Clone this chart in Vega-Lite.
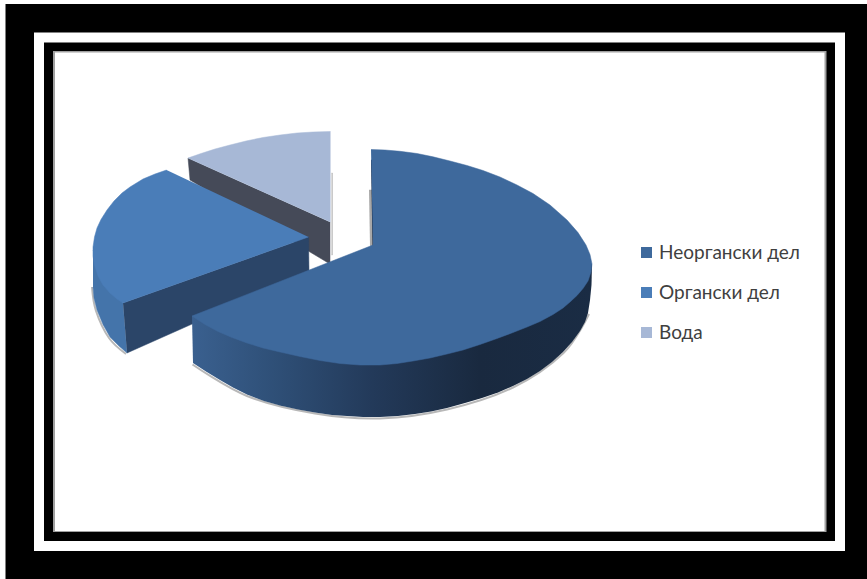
{
  "$schema": "https://vega.github.io/schema/vega-lite/v6.json",
  "width": 867,
  "height": 579,
  "autosize": {"type": "fit", "contains": "padding"},
  "padding": 0,
  "background": "#ffffff",
  "view": {"stroke": null},
  "datasets": {
    "frame": [
      {"band": "outer", "x": 5.5, "x2": 867, "y": 4, "y2": 579},
      {"band": "gap", "x": 34, "x2": 845, "y": 32.5, "y2": 551},
      {"band": "rule", "x": 44, "x2": 835, "y": 42.5, "y2": 541},
      {"band": "edge", "x": 53, "x2": 826.5, "y": 51, "y2": 532},
      {"band": "plot", "x": 55, "x2": 824.5, "y": 52.5, "y2": 531}
    ],
    "outlines": [
      {"part": "water-wall", "i": 1, "x": 188, "y": 158},
      {"part": "water-wall", "i": 2, "x": 190, "y": 180},
      {"part": "water-wall", "i": 3, "x": 330, "y": 264},
      {"part": "water-wall", "i": 4, "x": 330, "y": 222},

      {"part": "water-edge", "i": 1, "x": 331.5, "y": 173},
      {"part": "water-edge", "i": 2, "x": 332.5, "y": 173},
      {"part": "water-edge", "i": 3, "x": 332.5, "y": 255},
      {"part": "water-edge", "i": 4, "x": 331.5, "y": 255},

      {"series": "Вода", "part": "water-top", "i": 1, "x": 330.5, "y": 131.5},
      {"series": "Вода", "part": "water-top", "i": 2, "x": 313, "y": 132},
      {"series": "Вода", "part": "water-top", "i": 3, "x": 297, "y": 133},
      {"series": "Вода", "part": "water-top", "i": 4, "x": 280, "y": 135},
      {"series": "Вода", "part": "water-top", "i": 5, "x": 263, "y": 137.5},
      {"series": "Вода", "part": "water-top", "i": 6, "x": 246, "y": 141},
      {"series": "Вода", "part": "water-top", "i": 7, "x": 230, "y": 145},
      {"series": "Вода", "part": "water-top", "i": 8, "x": 215, "y": 149},
      {"series": "Вода", "part": "water-top", "i": 9, "x": 201, "y": 153.5},
      {"series": "Вода", "part": "water-top", "i": 10, "x": 188, "y": 158},
      {"series": "Вода", "part": "water-top", "i": 11, "x": 330.5, "y": 222},

      {"part": "organic-rim-shadow", "i": 1, "x": 92, "y": 287},
      {"part": "organic-rim-shadow", "i": 2, "x": 96, "y": 311},
      {"part": "organic-rim-shadow", "i": 3, "x": 109, "y": 338},
      {"part": "organic-rim-shadow", "i": 4, "x": 126, "y": 354},

      {"part": "organic-rim", "i": 1, "x": 93, "y": 250},
      {"part": "organic-rim", "i": 2, "x": 123, "y": 303},
      {"part": "organic-rim", "i": 3, "x": 127, "y": 353},
      {"part": "organic-rim", "i": 4, "x": 119, "y": 346},
      {"part": "organic-rim", "i": 5, "x": 110, "y": 337},
      {"part": "organic-rim", "i": 6, "x": 103, "y": 324.5},
      {"part": "organic-rim", "i": 7, "x": 97, "y": 310},
      {"part": "organic-rim", "i": 8, "x": 94, "y": 298},
      {"part": "organic-rim", "i": 9, "x": 93, "y": 287},

      {"part": "organic-wall", "i": 1, "x": 123, "y": 303},
      {"part": "organic-wall", "i": 2, "x": 308.5, "y": 237},
      {"part": "organic-wall", "i": 3, "x": 309, "y": 272},
      {"part": "organic-wall", "i": 4, "x": 127, "y": 353},

      {"series": "Органски дел", "part": "organic-top", "i": 1, "x": 166.5, "y": 170},
      {"series": "Органски дел", "part": "organic-top", "i": 2, "x": 155, "y": 174},
      {"series": "Органски дел", "part": "organic-top", "i": 3, "x": 143, "y": 179},
      {"series": "Органски дел", "part": "organic-top", "i": 4, "x": 130, "y": 187},
      {"series": "Органски дел", "part": "organic-top", "i": 5, "x": 122, "y": 193},
      {"series": "Органски дел", "part": "organic-top", "i": 6, "x": 114, "y": 201},
      {"series": "Органски дел", "part": "organic-top", "i": 7, "x": 107, "y": 210},
      {"series": "Органски дел", "part": "organic-top", "i": 8, "x": 101, "y": 219.5},
      {"series": "Органски дел", "part": "organic-top", "i": 9, "x": 97, "y": 228},
      {"series": "Органски дел", "part": "organic-top", "i": 10, "x": 94.5, "y": 237},
      {"series": "Органски дел", "part": "organic-top", "i": 11, "x": 93, "y": 247},
      {"series": "Органски дел", "part": "organic-top", "i": 12, "x": 93, "y": 256},
      {"series": "Органски дел", "part": "organic-top", "i": 13, "x": 94.5, "y": 265},
      {"series": "Органски дел", "part": "organic-top", "i": 14, "x": 98, "y": 276},
      {"series": "Органски дел", "part": "organic-top", "i": 15, "x": 103, "y": 285},
      {"series": "Органски дел", "part": "organic-top", "i": 16, "x": 110, "y": 293},
      {"series": "Органски дел", "part": "organic-top", "i": 17, "x": 117, "y": 299},
      {"series": "Органски дел", "part": "organic-top", "i": 18, "x": 123, "y": 303},
      {"series": "Органски дел", "part": "organic-top", "i": 19, "x": 308.5, "y": 237},

      {"part": "mineral-edge", "i": 1, "x": 369, "y": 190},
      {"part": "mineral-edge", "i": 2, "x": 373, "y": 190},
      {"part": "mineral-edge", "i": 3, "x": 374, "y": 246},
      {"part": "mineral-edge", "i": 4, "x": 370, "y": 246},

      {"part": "mineral-inner", "i": 1, "x": 371, "y": 160},
      {"part": "mineral-inner", "i": 2, "x": 374, "y": 160},
      {"part": "mineral-inner", "i": 3, "x": 373.5, "y": 246},
      {"part": "mineral-inner", "i": 4, "x": 372.5, "y": 246},

      {"part": "mineral-shadow", "i": 1, "x": 192.5, "y": 364.5},
      {"part": "mineral-shadow", "i": 2, "x": 247, "y": 396},
      {"part": "mineral-shadow", "i": 3, "x": 315, "y": 413.5},
      {"part": "mineral-shadow", "i": 4, "x": 380, "y": 418.5},
      {"part": "mineral-shadow", "i": 5, "x": 447, "y": 409.5},
      {"part": "mineral-shadow", "i": 6, "x": 513, "y": 387.5},
      {"part": "mineral-shadow", "i": 7, "x": 563.5, "y": 353},
      {"part": "mineral-shadow", "i": 8, "x": 589, "y": 314},

      {"part": "mineral-wall", "i": 1, "x": 193, "y": 363},
      {"part": "mineral-wall", "i": 2, "x": 206, "y": 371.5},
      {"part": "mineral-wall", "i": 3, "x": 220, "y": 380},
      {"part": "mineral-wall", "i": 4, "x": 233, "y": 387.5},
      {"part": "mineral-wall", "i": 5, "x": 247, "y": 394.5},
      {"part": "mineral-wall", "i": 6, "x": 264, "y": 401},
      {"part": "mineral-wall", "i": 7, "x": 280, "y": 405.5},
      {"part": "mineral-wall", "i": 8, "x": 298, "y": 409.5},
      {"part": "mineral-wall", "i": 9, "x": 315, "y": 412.5},
      {"part": "mineral-wall", "i": 10, "x": 332, "y": 415},
      {"part": "mineral-wall", "i": 11, "x": 347, "y": 416},
      {"part": "mineral-wall", "i": 12, "x": 363, "y": 417},
      {"part": "mineral-wall", "i": 13, "x": 380, "y": 417},
      {"part": "mineral-wall", "i": 14, "x": 398, "y": 416},
      {"part": "mineral-wall", "i": 15, "x": 415, "y": 414},
      {"part": "mineral-wall", "i": 16, "x": 431, "y": 411.5},
      {"part": "mineral-wall", "i": 17, "x": 447, "y": 408},
      {"part": "mineral-wall", "i": 18, "x": 465, "y": 403},
      {"part": "mineral-wall", "i": 19, "x": 482, "y": 398},
      {"part": "mineral-wall", "i": 20, "x": 498, "y": 392.5},
      {"part": "mineral-wall", "i": 21, "x": 513, "y": 386},
      {"part": "mineral-wall", "i": 22, "x": 527, "y": 379},
      {"part": "mineral-wall", "i": 23, "x": 540, "y": 371},
      {"part": "mineral-wall", "i": 24, "x": 552, "y": 362},
      {"part": "mineral-wall", "i": 25, "x": 563, "y": 352},
      {"part": "mineral-wall", "i": 26, "x": 572, "y": 342},
      {"part": "mineral-wall", "i": 27, "x": 580, "y": 331},
      {"part": "mineral-wall", "i": 28, "x": 585, "y": 322},
      {"part": "mineral-wall", "i": 29, "x": 588, "y": 313},
      {"part": "mineral-wall", "i": 30, "x": 590, "y": 300},
      {"part": "mineral-wall", "i": 31, "x": 591.5, "y": 285},
      {"part": "mineral-wall", "i": 32, "x": 592, "y": 264},
      {"part": "mineral-wall", "i": 33, "x": 192, "y": 316},

      {"series": "Неоргански дел", "part": "mineral-top", "i": 1, "x": 371, "y": 149.5},
      {"series": "Неоргански дел", "part": "mineral-top", "i": 2, "x": 385, "y": 150},
      {"series": "Неоргански дел", "part": "mineral-top", "i": 3, "x": 400, "y": 151.3},
      {"series": "Неоргански дел", "part": "mineral-top", "i": 4, "x": 417, "y": 153.5},
      {"series": "Неоргански дел", "part": "mineral-top", "i": 5, "x": 433, "y": 156.8},
      {"series": "Неоргански дел", "part": "mineral-top", "i": 6, "x": 450, "y": 161},
      {"series": "Неоргански дел", "part": "mineral-top", "i": 7, "x": 467, "y": 165.5},
      {"series": "Неоргански дел", "part": "mineral-top", "i": 8, "x": 483, "y": 170.5},
      {"series": "Неоргански дел", "part": "mineral-top", "i": 9, "x": 500, "y": 177},
      {"series": "Неоргански дел", "part": "mineral-top", "i": 10, "x": 517, "y": 185},
      {"series": "Неоргански дел", "part": "mineral-top", "i": 11, "x": 533, "y": 193.5},
      {"series": "Неоргански дел", "part": "mineral-top", "i": 12, "x": 550, "y": 205},
      {"series": "Неоргански дел", "part": "mineral-top", "i": 13, "x": 567, "y": 220},
      {"series": "Неоргански дел", "part": "mineral-top", "i": 14, "x": 578, "y": 232.6},
      {"series": "Неоргански дел", "part": "mineral-top", "i": 15, "x": 586, "y": 245},
      {"series": "Неоргански дел", "part": "mineral-top", "i": 16, "x": 590, "y": 254.5},
      {"series": "Неоргански дел", "part": "mineral-top", "i": 17, "x": 592, "y": 264},
      {"series": "Неоргански дел", "part": "mineral-top", "i": 18, "x": 591, "y": 272},
      {"series": "Неоргански дел", "part": "mineral-top", "i": 19, "x": 588, "y": 281},
      {"series": "Неоргански дел", "part": "mineral-top", "i": 20, "x": 583, "y": 288.5},
      {"series": "Неоргански дел", "part": "mineral-top", "i": 21, "x": 577, "y": 295.5},
      {"series": "Неоргански дел", "part": "mineral-top", "i": 22, "x": 570, "y": 302},
      {"series": "Неоргански дел", "part": "mineral-top", "i": 23, "x": 563, "y": 308},
      {"series": "Неоргански дел", "part": "mineral-top", "i": 24, "x": 553, "y": 314.5},
      {"series": "Неоргански дел", "part": "mineral-top", "i": 25, "x": 540, "y": 321.5},
      {"series": "Неоргански дел", "part": "mineral-top", "i": 26, "x": 527, "y": 327},
      {"series": "Неоргански дел", "part": "mineral-top", "i": 27, "x": 513, "y": 332.5},
      {"series": "Неоргански дел", "part": "mineral-top", "i": 28, "x": 497, "y": 338.5},
      {"series": "Неоргански дел", "part": "mineral-top", "i": 29, "x": 480, "y": 344.5},
      {"series": "Неоргански дел", "part": "mineral-top", "i": 30, "x": 463, "y": 350},
      {"series": "Неоргански дел", "part": "mineral-top", "i": 31, "x": 447, "y": 354},
      {"series": "Неоргански дел", "part": "mineral-top", "i": 32, "x": 430, "y": 358},
      {"series": "Неоргански дел", "part": "mineral-top", "i": 33, "x": 413, "y": 361},
      {"series": "Неоргански дел", "part": "mineral-top", "i": 34, "x": 397, "y": 363.5},
      {"series": "Неоргански дел", "part": "mineral-top", "i": 35, "x": 380, "y": 365},
      {"series": "Неоргански дел", "part": "mineral-top", "i": 36, "x": 360, "y": 365},
      {"series": "Неоргански дел", "part": "mineral-top", "i": 37, "x": 340, "y": 363.5},
      {"series": "Неоргански дел", "part": "mineral-top", "i": 38, "x": 320, "y": 360.5},
      {"series": "Неоргански дел", "part": "mineral-top", "i": 39, "x": 300, "y": 356.5},
      {"series": "Неоргански дел", "part": "mineral-top", "i": 40, "x": 280, "y": 352},
      {"series": "Неоргански дел", "part": "mineral-top", "i": 41, "x": 263, "y": 348},
      {"series": "Неоргански дел", "part": "mineral-top", "i": 42, "x": 247, "y": 343},
      {"series": "Неоргански дел", "part": "mineral-top", "i": 43, "x": 232, "y": 337.5},
      {"series": "Неоргански дел", "part": "mineral-top", "i": 44, "x": 218, "y": 331.5},
      {"series": "Неоргански дел", "part": "mineral-top", "i": 45, "x": 205, "y": 324.5},
      {"series": "Неоргански дел", "part": "mineral-top", "i": 46, "x": 192, "y": 316},
      {"series": "Неоргански дел", "part": "mineral-top", "i": 47, "x": 373, "y": 245}
    ]
  },
  "encoding": {
    "x": {"field": "x", "type": "quantitative", "axis": null, "scale": {"domain": [0, 867], "nice": false, "zero": false}},
    "y": {"field": "y", "type": "quantitative", "axis": null, "scale": {"domain": [579, 0], "nice": false, "zero": false}}
  },
  "layer": [
    {
      "description": "Black and white nested frame around the plot",
      "data": {"name": "frame"},
      "mark": {"type": "rect"},
      "encoding": {
        "x2": {"field": "x2"},
        "y2": {"field": "y2"},
        "color": {"field": "band", "type": "nominal", "legend": null, "scale": {"domain": ["outer", "gap", "rule", "edge", "plot"], "range": ["#000000", "#ffffff", "#000000", "#a0a0a0", "#ffffff"]}}
      }
    },
    {
      "description": "Cut wall behind the water slice",
      "data": {"name": "outlines"},
      "transform": [{"filter": "datum.part === 'water-wall'"}],
      "mark": {"type": "line", "fill": "#454a58", "stroke": "#454a58", "strokeWidth": 0.5},
      "encoding": {"order": {"field": "i", "type": "quantitative"}}
    },
    {
      "description": "Soft edge to the right of the water wall",
      "data": {"name": "outlines"},
      "transform": [{"filter": "datum.part === 'water-edge'"}],
      "mark": {"type": "line", "fill": "#b8b8b8", "stroke": "#b8b8b8", "strokeWidth": 0.5},
      "encoding": {"order": {"field": "i", "type": "quantitative"}}
    },
    {
      "description": "Top face of the water slice",
      "data": {"name": "outlines"},
      "transform": [{"filter": "datum.part === 'water-top'"}],
      "mark": {"type": "line", "fill": "#a7b8d6", "stroke": "#a7b8d6", "strokeWidth": 0.5},
      "encoding": {"order": {"field": "i", "type": "quantitative"}}
    },
    {
      "description": "Soft shadow below the organic slice",
      "data": {"name": "outlines"},
      "transform": [{"filter": "datum.part === 'organic-rim-shadow'"}],
      "mark": {"type": "line", "interpolate": "cardinal", "stroke": "#9a9a9a", "strokeWidth": 2, "strokeOpacity": 0.7},
      "encoding": {"order": {"field": "i", "type": "quantitative"}}
    },
    {
      "description": "Curved outer wall of the organic slice",
      "data": {"name": "outlines"},
      "transform": [{"filter": "datum.part === 'organic-rim'"}],
      "mark": {"type": "line", "fill": "#4474aa", "stroke": "#4474aa", "strokeWidth": 0.5},
      "encoding": {"order": {"field": "i", "type": "quantitative"}}
    },
    {
      "description": "Cut wall of the organic slice",
      "data": {"name": "outlines"},
      "transform": [{"filter": "datum.part === 'organic-wall'"}],
      "mark": {"type": "line", "fill": "#2b4568", "stroke": "#2b4568", "strokeWidth": 0.5},
      "encoding": {"order": {"field": "i", "type": "quantitative"}}
    },
    {
      "description": "Top face of the organic slice",
      "data": {"name": "outlines"},
      "transform": [{"filter": "datum.part === 'organic-top'"}],
      "mark": {"type": "line", "fill": "#4a7db8", "stroke": "#4a7db8", "strokeWidth": 0.5},
      "encoding": {"order": {"field": "i", "type": "quantitative"}}
    },
    {
      "description": "Inner cut sliver of the large slice",
      "data": {"name": "outlines"},
      "transform": [{"filter": "datum.part === 'mineral-edge'"}],
      "mark": {"type": "line", "fill": "#a8a8a8", "stroke": "#a8a8a8", "strokeWidth": 0.5},
      "encoding": {"order": {"field": "i", "type": "quantitative"}}
    },
    {
      "data": {"name": "outlines"},
      "transform": [{"filter": "datum.part === 'mineral-inner'"}],
      "mark": {"type": "line", "fill": "#1a2c45", "stroke": "#1a2c45", "strokeWidth": 0.5},
      "encoding": {"order": {"field": "i", "type": "quantitative"}}
    },
    {
      "description": "Thin shadow under the large slice",
      "data": {"name": "outlines"},
      "transform": [{"filter": "datum.part === 'mineral-shadow'"}],
      "mark": {"type": "line", "interpolate": "cardinal", "stroke": "#9a9a9a", "strokeWidth": 2, "strokeOpacity": 0.7},
      "encoding": {"order": {"field": "i", "type": "quantitative"}}
    },
    {
      "description": "Outer wall of the large slice, darkening towards the right; its closing run stays hidden under the top face",
      "data": {"name": "outlines"},
      "transform": [{"filter": "datum.part === 'mineral-wall'"}],
      "mark": {
        "type": "line",
        "strokeWidth": 0,
        "fill": {
          "x1": 0, "y1": 0, "x2": 1, "y2": 0,
          "gradient": "linear",
          "stops": [
            {"offset": 0, "color": "#3a608f"},
            {"offset": 0.2, "color": "#2f5078"},
            {"offset": 0.45, "color": "#233a5a"},
            {"offset": 0.72, "color": "#19293f"},
            {"offset": 1, "color": "#1a2c44"}
          ]
        }
      },
      "encoding": {"order": {"field": "i", "type": "quantitative"}}
    },
    {
      "description": "Top face of the large slice",
      "data": {"name": "outlines"},
      "transform": [{"filter": "datum.part === 'mineral-top'"}],
      "mark": {"type": "line", "fill": "#3e699c", "stroke": "#3e699c", "strokeWidth": 0.5},
      "encoding": {"order": {"field": "i", "type": "quantitative"}}
    },
    {
      "description": "Legend of the three slices, built from the named series in the outlines",
      "data": {"name": "outlines"},
      "transform": [{"filter": "isValid(datum.series)"}],
      "mark": {"type": "square", "size": 0},
      "encoding": {
        "fill": {
          "field": "series",
          "type": "nominal",
          "scale": {"domain": ["Неоргански дел", "Органски дел", "Вода"], "range": ["#3e699c", "#4a7db8", "#a7b8d6"]},
          "legend": {
            "title": null,
            "orient": "none",
            "legendX": 637,
            "legendY": 243,
            "zindex": 1,
            "symbolType": "square",
            "symbolSize": 121,
            "symbolOpacity": 1,
            "symbolStrokeWidth": 0,
            "labelFont": "Lato",
            "labelFontSize": 19,
            "labelColor": "#404040",
            "labelOffset": 3,
            "rowPadding": 20
          }
        }
      }
    }
  ]
}
